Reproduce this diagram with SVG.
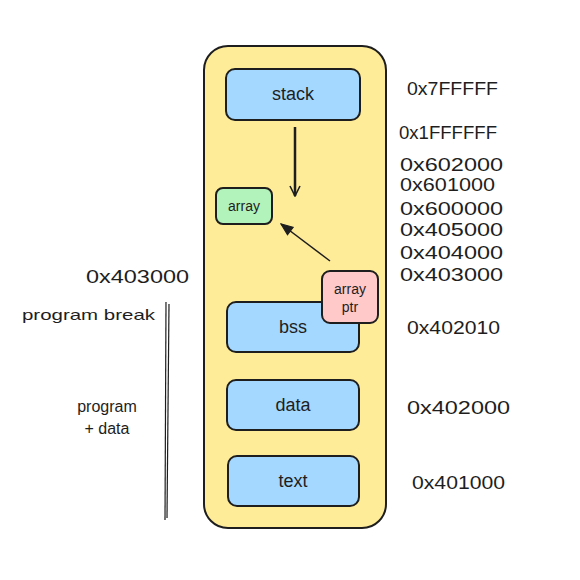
<svg xmlns="http://www.w3.org/2000/svg" width="580" height="580" viewBox="0 0 580 580">
<defs>
<style>
.box{stroke:#1e1e1e;stroke-width:2;}
.t{font-family:"Liberation Sans","DejaVu Sans",sans-serif;fill:#1e1e1e;}
.lbl{font-size:19px;}
.nl{font-size:18px;text-anchor:middle;dominant-baseline:central;}
.sm{font-size:14px;text-anchor:middle;dominant-baseline:central;}
.con{stroke:#1e1e1e;fill:none;}
</style>
<marker id="ah" viewBox="0 0 12 12" refX="11" refY="6" markerWidth="12" markerHeight="12" markerUnits="userSpaceOnUse" orient="auto">
<path d="M1,1 L11,6 L1,11" fill="none" stroke="#1e1e1e" stroke-width="1.6"/>
</marker>
<marker id="ahf" viewBox="0 0 12 12" refX="11" refY="6" markerWidth="14" markerHeight="14" markerUnits="userSpaceOnUse" orient="auto">
<path d="M1,2 L11,6 L1,10 Z" fill="#1e1e1e" stroke="#1e1e1e" stroke-width="1"/>
</marker>
</defs>
<rect width="580" height="580" fill="#ffffff"/>
<g id="memory">
<rect class="box" x="204" y="46" width="182" height="482" rx="24" fill="#ffec99"/>
</g>
<g id="stack">
<rect class="box" x="226" y="69" width="134" height="51" rx="9" fill="#a5d8ff"/>
<text class="t nl" x="293" y="94">stack</text>
</g>
<g id="array">
<rect class="box" x="216" y="188" width="56" height="36" rx="7" fill="#b2f2bb"/>
<text class="t sm" x="244" y="206">array</text>
</g>
<g id="bss">
<rect class="box" x="227" y="302" width="132" height="50" rx="9" fill="#a5d8ff"/>
<text class="t nl" x="293" y="327">bss</text>
</g>
<g id="data">
<rect class="box" x="227" y="380" width="132" height="50" rx="9" fill="#a5d8ff"/>
<text class="t nl" x="293" y="405">data</text>
</g>
<g id="text">
<rect class="box" x="228" y="456" width="131" height="50" rx="9" fill="#a5d8ff"/>
<text class="t nl" x="293" y="481">text</text>
</g>
<g id="arrayptr">
<rect class="box" x="322" y="271" width="56" height="52" rx="8" fill="#ffc9c9"/>
<text class="t sm" x="350" y="289">array</text>
<text class="t sm" x="350" y="307">ptr</text>
</g>
<g id="connectors">
<line class="con" x1="295" y1="127" x2="295" y2="196" stroke-width="2.5" marker-end="url(#ah)"/>
<line class="con" x1="330" y1="261" x2="281" y2="224" stroke-width="1.5" marker-end="url(#ahf)"/>
<line class="con" x1="166" y1="302" x2="165" y2="520" stroke-width="1.2"/>
<line class="con" x1="169" y1="304" x2="167" y2="518" stroke-width="1.2"/>
</g>
<g id="addresses">
<text class="t lbl" x="407" y="95" textLength="91" lengthAdjust="spacingAndGlyphs">0x7FFFFF</text>
<text class="t lbl" x="399" y="139" textLength="98" lengthAdjust="spacingAndGlyphs">0x1FFFFFF</text>
<text class="t lbl" x="400" y="171" textLength="103" lengthAdjust="spacingAndGlyphs">0x602000</text>
<text class="t lbl" x="400" y="191" textLength="95" lengthAdjust="spacingAndGlyphs">0x601000</text>
<text class="t lbl" x="400" y="215" textLength="103" lengthAdjust="spacingAndGlyphs">0x600000</text>
<text class="t lbl" x="400" y="236" textLength="103" lengthAdjust="spacingAndGlyphs">0x405000</text>
<text class="t lbl" x="400" y="259" textLength="103" lengthAdjust="spacingAndGlyphs">0x404000</text>
<text class="t lbl" x="400" y="281" textLength="103" lengthAdjust="spacingAndGlyphs">0x403000</text>
<text class="t lbl" x="407" y="334" textLength="93" lengthAdjust="spacingAndGlyphs">0x402010</text>
<text class="t lbl" x="407" y="414" textLength="103" lengthAdjust="spacingAndGlyphs">0x402000</text>
<text class="t lbl" x="412" y="489" textLength="93" lengthAdjust="spacingAndGlyphs">0x401000</text>
<text class="t lbl" x="86" y="283" textLength="103" lengthAdjust="spacingAndGlyphs">0x403000</text>
<text class="t" x="22" y="320" font-size="15" textLength="133" lengthAdjust="spacingAndGlyphs">program break</text>
<text class="t" x="107" y="412" font-size="16" text-anchor="middle">program</text>
<text class="t" x="107" y="434" font-size="16" text-anchor="middle">+ data</text>
</g>
</svg>
